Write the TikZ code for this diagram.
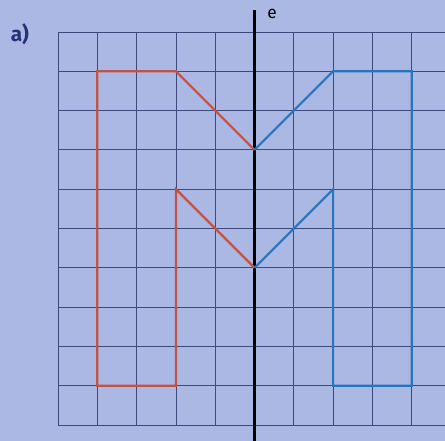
\documentclass[tikz,border=0pt]{standalone}
\usepackage{fontspec}
\setmainfont{Fira Sans}
\definecolor{papier}{RGB}{172,184,228}
\definecolor{quadrillage}{RGB}{62,72,122}
\definecolor{rouge}{RGB}{192,82,70}
\definecolor{bleu}{RGB}{38,118,190}
\definecolor{titre}{RGB}{36,50,120}
\begin{document}
\begin{tikzpicture}[x=39.3pt,y=39.3pt]
    % Dimensions : 10 colonnes (x) et 10 lignes (y)
\def\rows{10}
\def\cols{10}

% Fond et cadre
\fill[papier] (-1.476,-0.407) rectangle (9.847,10.814);
\useasboundingbox (-1.476,-0.407) rectangle (9.847,10.814);
\clip (-1.476,-0.407) rectangle (9.847,10.814);

% Dessiner le quadrillage
\draw[quadrillage, step=1, line width=0.8pt] (0,0) grid (\cols,\rows);

% Axe de symetrie
\draw[black, line width=2.6pt] (5,-0.5) -- (5,10.56);
\node[font=\LARGE] (e) at (5.45,10.45) {e};
\node[font=\huge\bfseries, text=titre] (a) at (-0.97,9.93) {a)};

% Figure de depart (rouge)
\draw[rouge, line width=2.2pt, line join=miter] (5,4) -- (3,6) -- (3,1) -- (1,1) -- (1,9) -- (3,9) -- (5,7);
% Image par la symetrie (bleu)
\draw[bleu, line width=2.2pt, line join=miter] (5,4) -- (7,6) -- (7,1) -- (9,1) -- (9,9) -- (7,9) -- (5,7);
\end{tikzpicture}
\end{document}
